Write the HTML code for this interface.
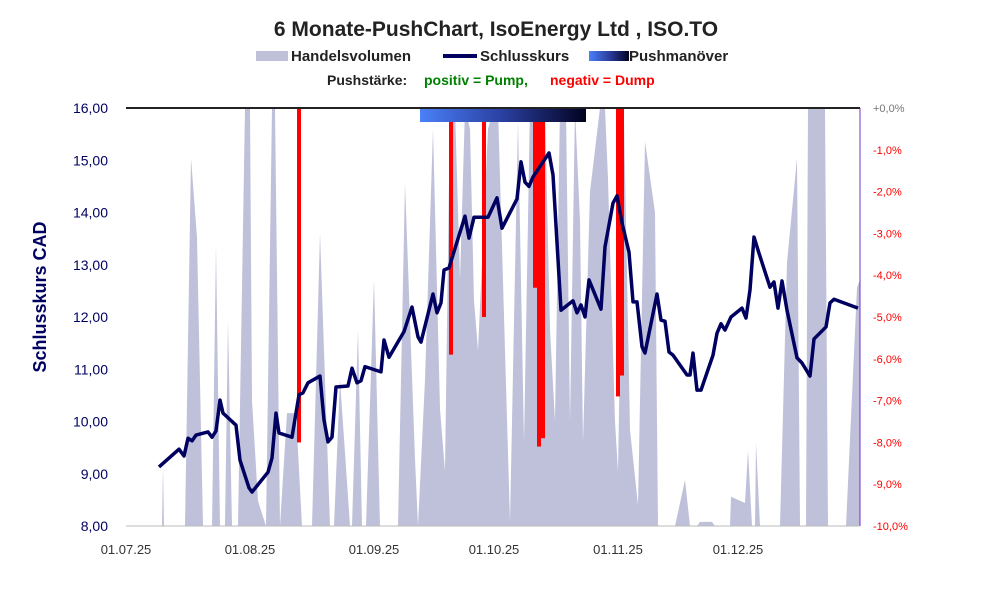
<!DOCTYPE html>
<html><head><meta charset="utf-8"><style>
body{margin:0;background:#fff;width:991px;height:591px;overflow:hidden;font-family:"Liberation Sans",sans-serif}
svg text{font-family:"Liberation Sans",sans-serif}
</style></head><body>
<svg id="chartsvg" width="991" height="591">
<defs>
<linearGradient id="pg" x1="0" x2="1" y1="0" y2="0"><stop offset="0" stop-color="#4a80f8"/><stop offset="0.5" stop-color="#2a3fa0"/><stop offset="1" stop-color="#020220"/></linearGradient>
<clipPath id="plotclip"><rect x="126" y="108" width="734" height="418"/></clipPath>
</defs>
<text x="496" y="36" text-anchor="middle" font-size="21" font-weight="bold" fill="#222">6 Monate-PushChart, IsoEnergy Ltd , ISO.TO</text>
<g>
<rect x="256" y="51" width="32" height="10" fill="#bfc0da"/>
<text x="291" y="61" font-size="15" font-weight="bold" fill="#222">Handelsvolumen</text>
<rect x="443" y="54" width="34" height="4" fill="#000060"/>
<text x="480" y="61" font-size="15" font-weight="bold" fill="#222">Schlusskurs</text>
<rect x="589" y="51" width="40" height="10" fill="url(#pg)"/>
<text x="629" y="61" font-size="15" font-weight="bold" fill="#222">Pushmanöver</text>
<text x="327" y="85" font-size="14" font-weight="bold" fill="#222">Pushstärke:</text>
<text x="424" y="85" font-size="14" font-weight="bold" fill="#008000">positiv = Pump,</text>
<text x="550" y="85" font-size="14" font-weight="bold" fill="#ff0000">negativ = Dump</text>
</g>
<text transform="translate(46,297) rotate(-90)" text-anchor="middle" font-size="18" font-weight="bold" fill="#000060">Schlusskurs CAD</text>
<g id="gVolume" clip-path="url(#plotclip)"></g>
<g id="gPush" clip-path="url(#plotclip)"></g>
<rect x="420" y="108" width="166" height="14" fill="url(#pg)"/>
<g id="gLine" clip-path="url(#plotclip)"></g>
<line x1="126" y1="108" x2="860" y2="108" stroke="#222" stroke-width="2"/>
<line x1="860" y1="108" x2="860" y2="526" stroke="#7030c0" stroke-width="1"/>
<line x1="126" y1="526" x2="860" y2="526" stroke="#bbb" stroke-width="1"/>
<g id="gAxes"></g>
</svg>
<script>
var volDays=[9,9.25,9.5,14.75,16.25,17.75,19.25,21.5,22.5,23.5,24.75,25.5,26.5,28,29.75,31,31.5,33,35,36.5,37.25,38.5,40.25,42.5,44,46.5,48.5,51,52,53.5,56,56.5,58,59,60,62,63.5,68,69.75,72.25,73,74.75,76.75,78.5,79.75,81,82.25,83.5,84.75,86,87,88,89,90.5,92,93,94.75,96,98,99.5,101,102.25,104.75,106,107.25,108.5,110,111,112.25,113.5,114.25,116,118.5,119.75,120.5,122.25,123,124.5,126,128,129.75,132.25,133,134.75,137.25,139.75,141,142.75,143.5,146.5,147.25,151,151.25,154.75,155.5,156.5,157.25,157.5,158.5,163.5,165.25,167.75,168.5,170,170.5,174.75,175.5,180,182.75,183.5];
var volValues=[0,14.6,0,0,88,69,0,0,67,0,0,49,0,0,100,100,30,6,0,100,100,0,27,27,0,0,70,0,0,35,0,0,47,0,0,59,0,0,82,16,0,35,95,28,13,100,100,59,100,95,54,42,63,95,100,100,42,1,97,20,100,100,100,47,25,100,100,25,100,73,20,80,100,100,83,25,13,97,23,5,92,75,0,0,0,11,0,0,1,1,0,0,7,5.5,18,0,0,20,0,0,63,88,0,0,100,100,0,0,57,59];
var priceDays=[8.25,13.25,14.5,15.5,16.5,17.5,20.5,21.5,22.5,23.5,24.25,27.5,28.5,30.75,31.5,35.5,36.5,37.5,38.25,41.5,43.25,44.25,45.5,48.5,49.5,50.5,51.5,52.5,55.5,56.5,57.75,58.75,59.75,63.75,64.5,65.75,69.5,71.5,73,73.75,76.75,77.75,78.75,79.5,80.75,84.75,85.75,87,90.5,92.75,94,97.75,98.75,99.75,100.75,101.75,105.75,106.75,108.75,111.75,112.75,113.75,114.75,115.75,118.75,119.75,121.75,122.75,124,125.75,126.75,127.75,129,129.75,132.75,133.75,134.75,135.75,136.75,140.25,141,141.75,142.75,143.75,146.75,147.75,148.75,149.75,151.25,154,155,156,157,158.25,161,162,163,164,165.25,167.75,169,171,172,175,176,177,183];
var priceValues=[9.13,9.47,9.34,9.68,9.63,9.74,9.80,9.70,9.82,10.41,10.16,9.93,9.26,8.73,8.65,9.03,9.30,10.16,9.78,9.70,10.51,10.55,10.74,10.87,10.03,9.61,9.70,10.66,10.68,11.02,10.74,10.78,11.05,10.95,11.56,11.23,11.72,12.19,11.62,11.52,12.44,12.08,12.27,12.90,12.94,13.93,13.51,13.91,13.91,14.28,13.70,14.26,14.97,14.58,14.50,14.68,15.14,14.72,12.13,12.31,12.08,12.23,12.00,12.71,12.15,13.34,14.18,14.32,13.80,13.24,12.29,12.29,11.43,11.31,12.44,11.94,11.92,11.33,11.27,10.89,10.89,11.31,10.60,10.60,11.27,11.69,11.87,11.75,12.00,12.17,11.98,12.52,13.53,13.22,12.57,12.67,12.17,12.69,12.13,11.22,11.12,10.87,11.58,11.81,12.27,12.34,12.17];
var pushDays=[43.25,81.25,89.5,102.25,103.25,104.25,123,124];
var pushValues=[-8.0,-5.9,-5.0,-4.3,-8.1,-7.9,-6.9,-6.4];
var leftTicks=["8,00","9,00","10,00","11,00","12,00","13,00","14,00","15,00","16,00"];
var rightTicks=["+0,0%","-1,0%","-2,0%","-3,0%","-4,0%","-5,0%","-6,0%","-7,0%","-8,0%","-9,0%","-10,0%"];
var xTickDays=[0,31,62,92,123,153];
var xTickLabels=["01.07.25","01.08.25","01.09.25","01.10.25","01.11.25","01.12.25"];
(function(){
var SVGNS="http://www.w3.org/2000/svg";
function xs(d){return 126+4*d;}
function yp(p){return 526-(p-8)*52.25;}
function yr(v){return 108-v*41.8;}
function yv(v){return 526-v*4.18;}
function mk(t,a,parent){var e=document.createElementNS(SVGNS,t);for(var k in a){e.setAttribute(k,String(a[k]));}parent.appendChild(e);return e;}
var gV=document.getElementById('gVolume');
var n=Math.min(volDays.length,volValues.length);
var pts=[xs(volDays[0])+','+526];
for(var i=0;i<n;i++){pts.push(xs(volDays[i])+','+yv(volValues[i]));}
pts.push(xs(volDays[n-1])+','+526);
var va=mk('polygon',{points:pts.join(' '),fill:'#bfc0da'},gV);


var gP=document.getElementById('gPush');
for(var j=0;j<pushDays.length;j++){
var r=mk('rect',{x:xs(pushDays[j])-2,y:108,width:4,height:yr(pushValues[j])-108,fill:'#ff0000'},gP);


}
var gL=document.getElementById('gLine');
var lp=[];
var m=Math.min(priceDays.length,priceValues.length);
for(var k=0;k<m;k++){lp.push(xs(priceDays[k])+','+yp(priceValues[k]));}
var pl=mk('polyline',{points:lp.join(' '),fill:'none',stroke:'#000060','stroke-width':3.5,'stroke-linejoin':'round'},gL);


var gA=document.getElementById('gAxes');
for(var a=0;a<leftTicks.length;a++){
var t1=mk('text',{x:108,y:yp(8+a)+5,'text-anchor':'end','font-size':14,fill:'#000060'},gA);t1.textContent=leftTicks[a];


}
for(var b=0;b<rightTicks.length;b++){
var t2=mk('text',{x:873,y:yr(-b)+4,'font-size':11,fill:b===0?'#777':'#ff0000'},gA);t2.textContent=rightTicks[b];


}
for(var c=0;c<xTickDays.length;c++){
var t3=mk('text',{x:xs(xTickDays[c]),y:554,'text-anchor':'middle','font-size':13,fill:'#333'},gA);t3.textContent=xTickLabels[c];


}
})();
</script>
</body></html>
